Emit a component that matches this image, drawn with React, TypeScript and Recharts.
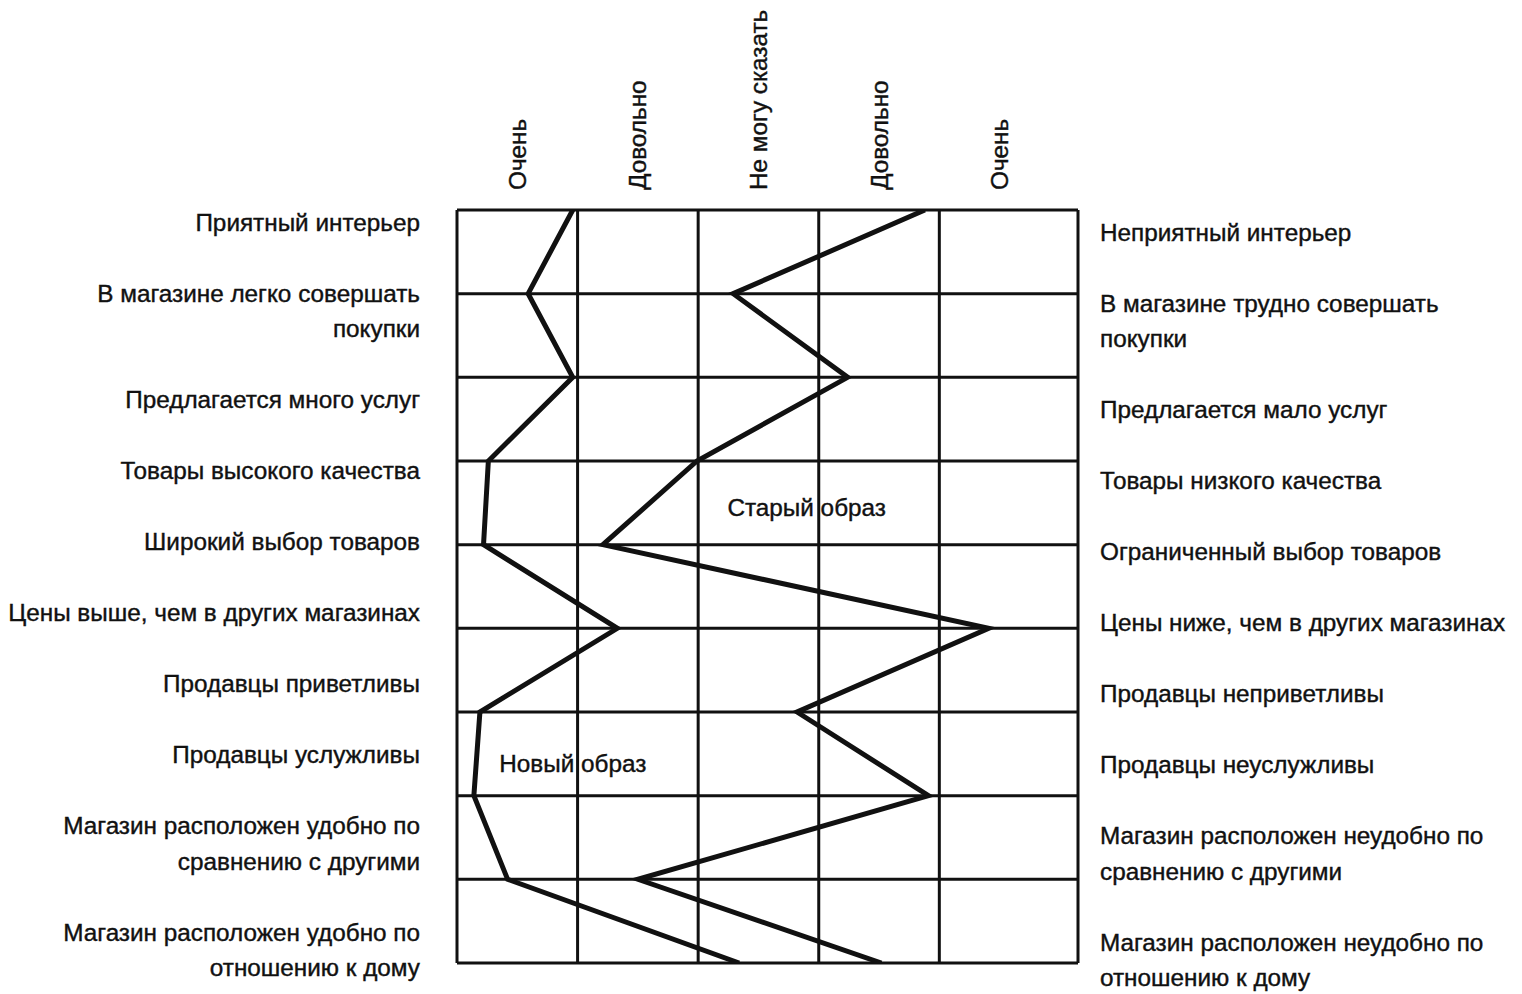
import { LineChart, Line, XAxis, YAxis, CartesianGrid, ReferenceDot } from "recharts";

// attribute pairs, left pole / right pole
const leftLabels = [
  "Приятный интерьер",
  "В магазине легко совершать\nпокупки",
  "Предлагается много услуг",
  "Товары высокого качества",
  "Широкий выбор товаров",
  "Цены выше, чем в других магазинах",
  "Продавцы приветливы",
  "Продавцы услужливы",
  "Магазин расположен удобно по\nсравнению с другими",
  "Магазин расположен удобно по\nотношению к дому",
];

const rightLabels = [
  "Неприятный интерьер",
  "В магазине трудно совершать\nпокупки",
  "Предлагается мало услуг",
  "Товары низкого качества",
  "Ограниченный выбор товаров",
  "Цены ниже, чем в других магазинах",
  "Продавцы неприветливы",
  "Продавцы неуслужливы",
  "Магазин расположен неудобно по\nсравнению с другими",
  "Магазин расположен неудобно по\nотношению к дому",
];

const scaleLabels = ["Очень", "Довольно", "Не могу сказать", "Довольно", "Очень"];
const scaleTicks = [0.5, 1.5, 2.5, 3.5, 4.5];
const columnEdges = [0, 1, 2, 3, 4, 5.15];
const rowIndex = [0, 1, 2, 3, 4, 5, 6, 7, 8, 9];

// position on the scale, in columns from the left edge
const newImage = [0.96, 0.59, 0.96, 0.26, 0.22, 1.33, 0.19, 0.14, 0.42, 2.34];
const oldImage = [3.88, 2.29, 3.24, 1.99, 1.21, 4.41, 2.82, 3.91, 1.5, 3.52];

const FONT = '"Liberation Sans", Arial, Helvetica, sans-serif';
const INK = "#111";
const FONT_SIZE = 24.3;

const oldLabelPos = { x: 2.9, y: 3.55 };
const newLabelPos = { x: 0.96, y: 6.61 };

const data = rowIndex.map((i) => ({ row: i, newImage: newImage[i], oldImage: oldImage[i] }));

// each label takes its lines plus one blank line
function lineStarts(labels: string[]): number[] {
  const starts: number[] = [];
  let pos = 0;
  for (const label of labels) {
    starts.push(pos);
    pos += label.split("\n").length + 1;
  }
  return starts;
}

const leftStarts = lineStarts(leftLabels);
const rightStarts = lineStarts(rightLabels);

function SideTick(props: any) {
  const { x, y, payload, labels, starts, anchor } = props;
  const i = starts.indexOf(payload.value);
  if (i < 0) return null;
  const lines: string[] = labels[i].split("\n");
  return (
    <text x={x} y={y} textAnchor={anchor} fontSize={FONT_SIZE} fill={INK} stroke={INK} strokeWidth={0.4} fontFamily={FONT}>
      {lines.map((line, j) => (
        <tspan key={j} x={x} dy={j === 0 ? "0.35em" : "1.46em"}>
          {line}
        </tspan>
      ))}
    </text>
  );
}

function TopTick(props: any) {
  const { x, y, payload } = props;
  const i = scaleTicks.indexOf(payload.value);
  if (i < 0) return null;
  return (
    <text
      x={x}
      y={y}
      transform={`rotate(-90 ${x} ${y})`}
      textAnchor="start"
      dominantBaseline="central"
      fontSize={FONT_SIZE}
      fill={INK}
      stroke={INK}
      strokeWidth={0.4}
      fontFamily={FONT}
    >
      {scaleLabels[i]}
    </text>
  );
}

const annotationStyle = { position: "center" as const, fontSize: FONT_SIZE, fill: INK, stroke: INK, strokeWidth: 0.4, fontFamily: FONT };

export default function App() {
  return (
    <div style={{ position: "absolute", left: 0, top: 0, width: 1522, height: 994, overflow: "hidden", background: "#fff" }}>
      <LineChart layout="vertical" width={1522} height={994} data={data} margin={{ top: 0, right: 0, bottom: 31, left: 0 }}>
        <XAxis xAxisId="grid" type="number" domain={[0, 5.15]} ticks={columnEdges} hide allowDataOverflow />
        <XAxis
          xAxisId="scale"
          orientation="top"
          type="number"
          domain={[0, 5.15]}
          ticks={scaleTicks}
          height={210}
          interval={0}
          axisLine={false}
          tickLine={false}
          tickSize={0}
          tickMargin={20}
          tick={(p: any) => <TopTick {...p} />}
          allowDataOverflow
        />
        <YAxis yAxisId="rows" type="number" dataKey="row" domain={[0, 9]} ticks={rowIndex} hide allowDataOverflow />
        <YAxis
          yAxisId="leftLabels"
          orientation="left"
          type="number"
          dataKey="row"
          width={457}
          domain={[-0.34, 20.87]}
          ticks={leftStarts}
          interval={0}
          axisLine={false}
          tickLine={false}
          tickSize={0}
          tickMargin={37}
          tick={(p: any) => <SideTick {...p} labels={leftLabels} starts={leftStarts} anchor="end" />}
          allowDataOverflow
        />
        <YAxis
          yAxisId="rightLabels"
          orientation="right"
          type="number"
          dataKey="row"
          width={444}
          domain={[-0.62, 20.59]}
          ticks={rightStarts}
          interval={0}
          axisLine={false}
          tickLine={false}
          tickSize={0}
          tickMargin={22}
          tick={(p: any) => <SideTick {...p} labels={rightLabels} starts={rightStarts} anchor="start" />}
          allowDataOverflow
        />
        <CartesianGrid xAxisId="grid" yAxisId="rows" stroke={INK} strokeWidth={3} />
        <Line
          xAxisId="grid"
          yAxisId="rows"
          type="linear"
          dataKey="newImage"
          stroke={INK}
          strokeWidth={5}
          dot={false}
          isAnimationActive={false}
        />
        <Line
          xAxisId="grid"
          yAxisId="rows"
          type="linear"
          dataKey="oldImage"
          stroke={INK}
          strokeWidth={5}
          dot={false}
          isAnimationActive={false}
        />
        <ReferenceDot
          xAxisId="grid"
          yAxisId="rows"
          x={oldLabelPos.x}
          y={oldLabelPos.y}
          r={0}
          label={{ value: "Старый образ", ...annotationStyle }}
        />
        <ReferenceDot
          xAxisId="grid"
          yAxisId="rows"
          x={newLabelPos.x}
          y={newLabelPos.y}
          r={0}
          label={{ value: "Новый образ", ...annotationStyle }}
        />
      </LineChart>
    </div>
  );
}
